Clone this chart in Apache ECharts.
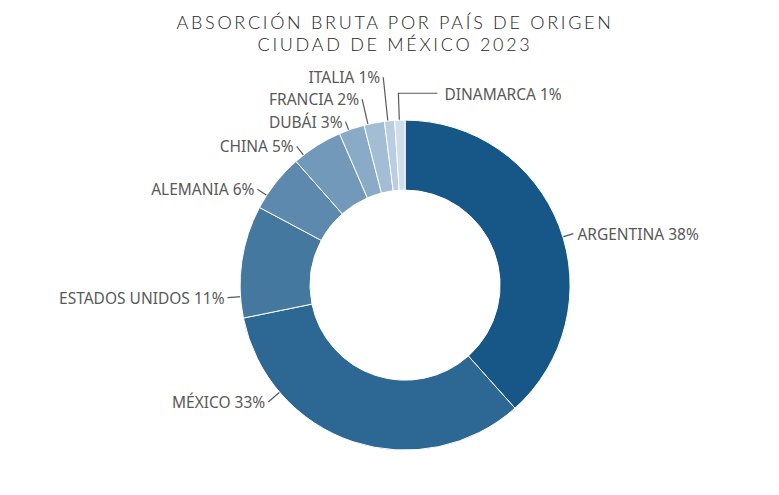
<!DOCTYPE html>
<html>
<head>
<meta charset="utf-8">
<script src="https://cdn.jsdelivr.net/npm/echarts@6/dist/echarts.min.js"></script>
<style>
    html, body { margin: 0; padding: 0; background: #fff; }
    #chart { width: 779px; height: 495px; }
    /* titulo con espaciado entre letras */
    #chart text[style*="Lato"] { letter-spacing: 2.7px; }
</style>
</head>
<body>
<div id="chart"></div>
<script>
// paises y su participacion (%)
var paises = ['ARGENTINA', 'MÉXICO', 'ESTADOS UNIDOS', 'ALEMANIA', 'CHINA', 'DUBÁI', 'FRANCIA', 'ITALIA', 'DINAMARCA'];
var valores = [38.4, 33.4, 11.0, 5.7, 5.0, 2.5, 2.0, 1.0, 1.0];
var colores = ['#175788', '#2d6793', '#45789f', '#5d89ae', '#7399ba', '#8aabc7', '#a2bdd4', '#b9cee0', '#d0deeb'];

// donde va cada etiqueta (grados desde arriba, sentido horario) y largo de su linea
var anguloEtiqueta = [73, 229.5, 266, 303, 322, 340, 347, 354, 358];
var largoLinea = [16, 20, 18, 16, 16, 14, 31, 49, 32];

var W = 779, H = 495;
var cx = W * 0.52, cy = H * 0.576;
var rExt = 165, rLinea = 160;

var chart = echarts.init(document.getElementById('chart'), null, {renderer: 'svg'});

var datos = paises.map(function (p, i) {
    return {name: p, value: valores[i], itemStyle: {color: colores[i]}};
});

function acomodar(params) {
    var i = params.dataIndex;
    var a = anguloEtiqueta[i] * Math.PI / 180;
    var sx = Math.sin(a), sy = -Math.cos(a);
    var p0 = [cx + rLinea * sx, cy + rLinea * sy];
    var r1 = rLinea + largoLinea[i];
    var p1 = [cx + r1 * sx, cy + r1 * sy];
    if (i === paises.length - 1) {
        // dinamarca: sube y luego va a la derecha
        var p2 = [p1[0] + 39, p1[1]];
        return {
            x: p2[0] + 7, y: p2[1] + 1, align: 'left', verticalAlign: 'middle',
            labelLinePoints: [p0, p1, p2]
        };
    }
    var der = sx >= 0;
    return {
        x: p1[0] + (der ? 4 : -3), y: p1[1], align: der ? 'left' : 'right', verticalAlign: 'middle',
        labelLinePoints: [p0, p1, p1]
    };
}

var option = {
    title: {
        text: 'ABSORCIÓN BRUTA POR PAÍS DE ORIGEN\nCIUDAD DE MÉXICO 2023',
        left: 390,
        top: 6,
        textAlign: 'center',
        textStyle: {
            fontFamily: 'Lato',
            fontWeight: 300,
            fontSize: 18,
            lineHeight: 22,
            color: '#262626'
        }
    },
    series: [{
        type: 'pie',
        center: ['52%', '57.6%'],
        radius: [95, rExt],
        startAngle: 90,
        clockwise: true,
        percentPrecision: 0,
        avoidLabelOverlap: false,
        data: datos,
        itemStyle: {borderColor: '#fff', borderWidth: 1},
        label: {
            formatter: '{b} {d}%',
            fontFamily: 'Noto Sans',
            fontSize: 15.5,
            lineHeight: 17,
            color: '#595959'
        },
        labelLine: {
            show: true,
            length: 10,
            length2: 0,
            lineStyle: {color: '#595959', width: 1.2}
        },
        labelLayout: acomodar,
        emphasis: {disabled: true}
    }]
};

chart.setOption(option);
</script>
</body>
</html>
